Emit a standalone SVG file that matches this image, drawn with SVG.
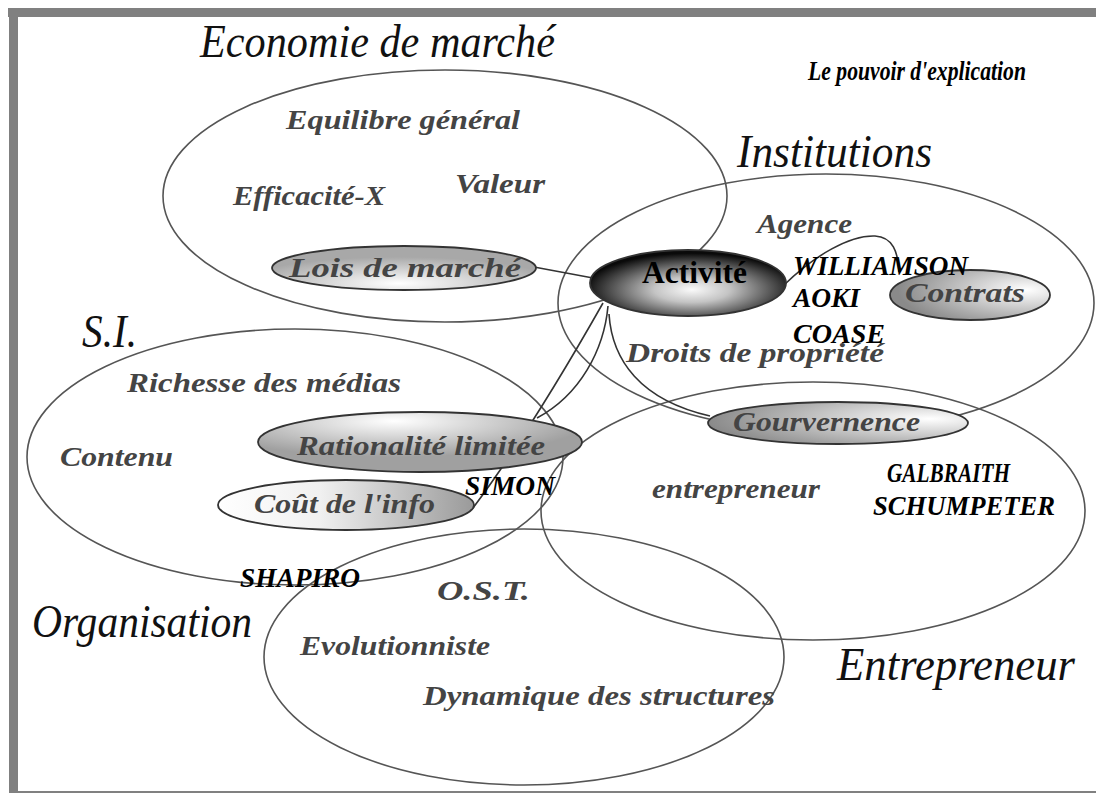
<svg xmlns="http://www.w3.org/2000/svg" width="1096" height="793" viewBox="0 0 1096 793">
<defs>
<style>
.big{font-family:"Liberation Serif",serif;font-style:italic;font-size:46px;fill:#111}
.lab{font-family:"Liberation Serif",serif;font-style:italic;font-weight:bold;font-size:28px;fill:#444}
.name{font-family:"Liberation Serif",serif;font-style:italic;font-weight:bold;font-size:27px;fill:#000}
.zone{fill:none;stroke:#555;stroke-width:1.6}
.conn{fill:none;stroke:#333;stroke-width:1.6}
.node{stroke:#333;stroke-width:1.8}
</style>
<radialGradient id="gLois" cx="0.48" cy="0.85" r="0.6">
<stop offset="0" stop-color="#ffffff"/><stop offset="1" stop-color="#a8a8a8"/>
</radialGradient>
<radialGradient id="gAct" cx="0.52" cy="0.6" r="0.55">
<stop offset="0" stop-color="#fafafa"/><stop offset="0.35" stop-color="#c4c4c4"/><stop offset="0.72" stop-color="#5a5a5a"/><stop offset="1" stop-color="#0a0a0a"/>
</radialGradient>
<radialGradient id="gCon" cx="0.85" cy="0.4" r="0.8">
<stop offset="0" stop-color="#ffffff"/><stop offset="1" stop-color="#8a8a8a"/>
</radialGradient>
<radialGradient id="gGou" cx="0.85" cy="0.4" r="0.85">
<stop offset="0" stop-color="#ffffff"/><stop offset="1" stop-color="#8a8a8a"/>
</radialGradient>
<radialGradient id="gRat" cx="0.42" cy="0.15" r="0.6">
<stop offset="0" stop-color="#ffffff"/><stop offset="1" stop-color="#a0a0a0"/>
</radialGradient>
<linearGradient id="gCout" x1="0" y1="0" x2="1" y2="0">
<stop offset="0" stop-color="#ffffff"/><stop offset="0.4" stop-color="#f0f0f0"/><stop offset="1" stop-color="#9a9a9a"/>
</linearGradient>
</defs>
<rect x="0" y="0" width="1096" height="793" fill="#fff"/>
<g id="frame" fill="#808080">
<rect x="8" y="8" width="1088" height="9"/>
<rect x="9" y="8" width="9" height="785"/>
<rect x="18" y="791" width="1078" height="2"/>
</g>
<g id="title"><text class="name" x="808" y="80" textLength="218" lengthAdjust="spacingAndGlyphs">Le pouvoir d'explication</text></g>

<g id="economie">
<ellipse class="zone" cx="445" cy="196" rx="282" ry="126"/>
<text class="big" x="200" y="57" textLength="355" lengthAdjust="spacingAndGlyphs">Economie de marché</text>
<text class="lab" x="286" y="129" textLength="234" lengthAdjust="spacingAndGlyphs">Equilibre général</text>
<text class="lab" x="233" y="205" textLength="152" lengthAdjust="spacingAndGlyphs">Efficacité-X</text>
<text class="lab" x="455" y="193" textLength="90" lengthAdjust="spacingAndGlyphs">Valeur</text>
</g>
<g id="institutions">
<ellipse class="zone" cx="826" cy="303" rx="268" ry="129"/>
<text class="big" x="737" y="167" textLength="195" lengthAdjust="spacingAndGlyphs">Institutions</text>
<text class="lab" x="757" y="233" textLength="95" lengthAdjust="spacingAndGlyphs">Agence</text>
<text class="lab" x="626" y="362" textLength="258" lengthAdjust="spacingAndGlyphs">Droits de propriété</text>
</g>
<g id="si">
<ellipse class="zone" cx="295" cy="457" rx="268" ry="128"/>
<text class="big" x="82" y="347" textLength="55" lengthAdjust="spacingAndGlyphs">S.I.</text>
<text class="lab" x="127" y="392" textLength="274" lengthAdjust="spacingAndGlyphs">Richesse des médias</text>
<text class="lab" x="60" y="466" textLength="113" lengthAdjust="spacingAndGlyphs">Contenu</text>
</g>
<g id="entrepreneur">
<ellipse class="zone" cx="813" cy="511" rx="272" ry="129"/>
<text class="big" x="837" y="680" textLength="238" lengthAdjust="spacingAndGlyphs">Entrepreneur</text>
<text class="lab" x="652" y="498" textLength="168" lengthAdjust="spacingAndGlyphs">entrepreneur</text>
</g>
<g id="organisation">
<ellipse class="zone" cx="524" cy="657" rx="260" ry="128"/>
<text class="big" x="32" y="637" textLength="220" lengthAdjust="spacingAndGlyphs">Organisation</text>
<text class="lab" x="437" y="600" textLength="93" lengthAdjust="spacingAndGlyphs">O.S.T.</text>
<text class="lab" x="300" y="655" textLength="190" lengthAdjust="spacingAndGlyphs">Evolutionniste</text>
<text class="lab" x="423" y="705" textLength="352" lengthAdjust="spacingAndGlyphs">Dynamique des structures</text>
</g>

<g id="connectors">
<path class="conn" d="M534,267 L593,278"/>
<path class="conn" d="M784,285 C815,255 850,235 875,236 C893,237 898,252 899,272"/>
<path class="conn" d="M608,306 C604,350 580,395 537,418"/>
<path class="conn" d="M603,303 C565,370 520,445 473,508"/>
<path class="conn" d="M609,314 C612,360 640,400 710,416"/>
</g>

<g id="lois">
<ellipse class="node" cx="404" cy="268" rx="132" ry="22" fill="url(#gLois)"/>
<text class="lab" x="289" y="277" textLength="232" lengthAdjust="spacingAndGlyphs">Lois de marché</text>
</g>
<g id="rationalite">
<ellipse class="node" cx="420" cy="442" rx="162" ry="30" fill="url(#gRat)"/>
<text class="lab" x="297" y="455" textLength="248" lengthAdjust="spacingAndGlyphs">Rationalité limitée</text>
</g>
<g id="cout">
<ellipse class="node" cx="346" cy="505" rx="128" ry="25" fill="url(#gCout)"/>
<text class="lab" x="254" y="513" textLength="181" lengthAdjust="spacingAndGlyphs">Coût de l'info</text>
</g>
<g id="contrats">
<ellipse class="node" cx="970" cy="295" rx="80" ry="25" fill="url(#gCon)"/>
<text class="lab" x="905" y="302" textLength="120" lengthAdjust="spacingAndGlyphs">Contrats</text>
</g>
<g id="gouvernence">
<ellipse class="node" cx="838" cy="423" rx="130" ry="21" fill="url(#gGou)"/>
<text class="lab" x="733" y="431" textLength="187" lengthAdjust="spacingAndGlyphs">Gourvernence</text>
</g>
<g id="activite">
<ellipse class="node" cx="688" cy="283" rx="98" ry="33" fill="url(#gAct)"/>
<text x="642" y="283" textLength="105" lengthAdjust="spacingAndGlyphs" style="font-family:'Liberation Serif',serif;font-weight:bold;font-size:32px;fill:#000">Activité</text>
</g>
<g id="names">
<text class="name" x="793" y="275" textLength="175" lengthAdjust="spacingAndGlyphs">WILLIAMSON</text>
<text class="name" x="793" y="307" textLength="67" lengthAdjust="spacingAndGlyphs">AOKI</text>
<text class="name" x="793" y="343" textLength="92" lengthAdjust="spacingAndGlyphs">COASE</text>
<text class="name" x="465" y="495" textLength="90" lengthAdjust="spacingAndGlyphs">SIMON</text>
<text class="name" x="240" y="587" textLength="120" lengthAdjust="spacingAndGlyphs">SHAPIRO</text>
<text class="name" x="887" y="482" textLength="123" lengthAdjust="spacingAndGlyphs">GALBRAITH</text>
<text class="name" x="873" y="515" textLength="182" lengthAdjust="spacingAndGlyphs">SCHUMPETER</text>
</g>
</svg>
